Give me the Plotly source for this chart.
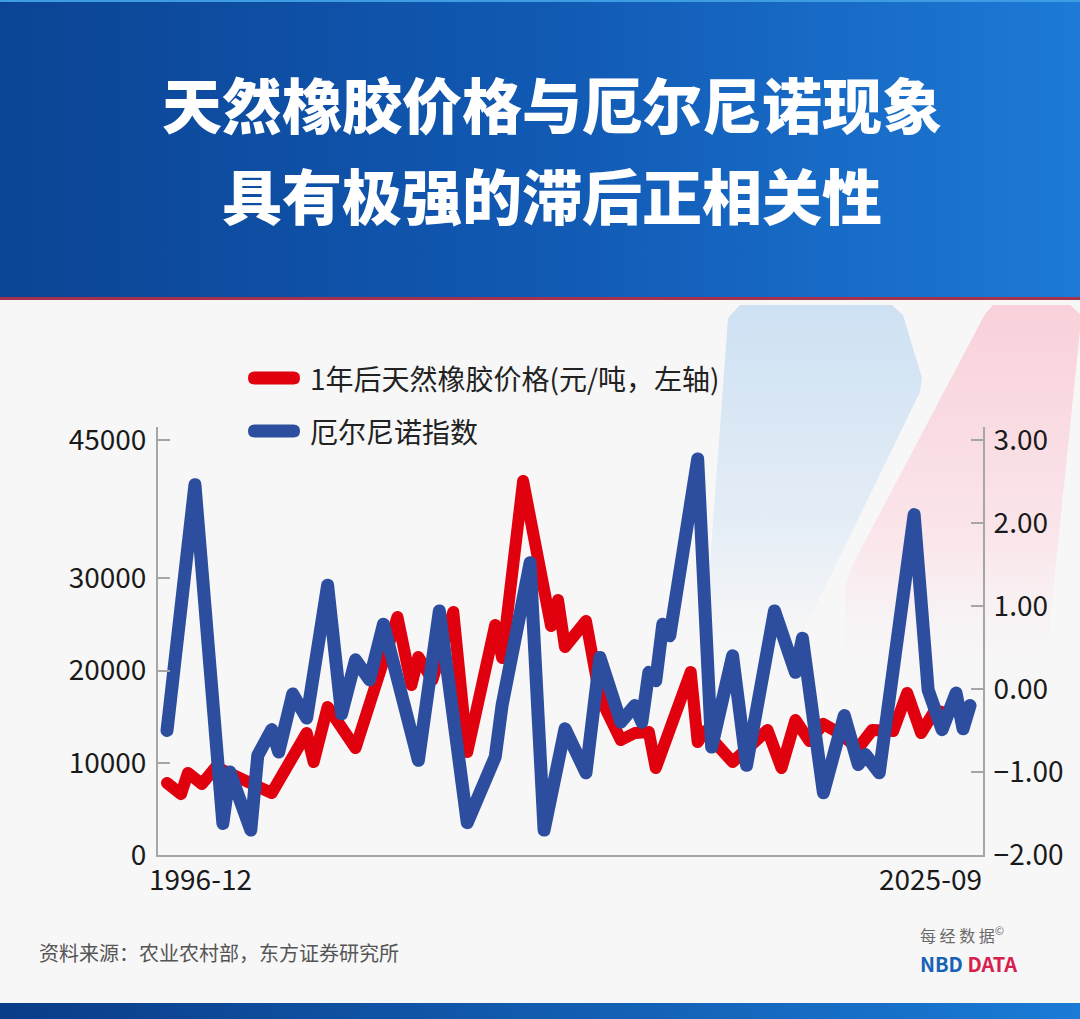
import plotly.graph_objects as go

W, H = 1080, 1019

# ---------------- data ----------------
title_lines = ["天然橡胶价格与厄尔尼诺现象", "具有极强的滞后正相关性"]
legend_labels = ["1年后天然橡胶价格(元/吨，左轴)", "厄尔尼诺指数"]
x_tick_labels = ["1996-12", "2025-09"]
left_ticks = [0, 10000, 20000, 30000, 45000]
right_ticks = [-2, -1, 0, 1, 2, 3]
source_text = "资料来源：农业农村部，东方证券研究所"
logo_cn = "每 经 数 据"

rubber_dates = ["1996-12", "1997-06", "1997-09", "1998-03", "1998-09", "2000-09", "2001-12",
                "2002-03", "2002-09", "2003-09", "2005-03", "2005-09", "2005-12", "2006-06",
                "2007-03", "2007-09", "2008-09", "2008-12", "2009-09", "2010-09", "2010-12",
                "2011-03", "2011-12", "2012-06", "2013-03", "2013-09", "2014-03", "2014-06",
                "2015-09", "2015-12", "2016-03", "2017-03", "2018-06", "2018-12", "2019-06",
                "2019-12", "2020-06", "2020-12", "2021-09", "2022-03", "2022-12", "2023-06",
                "2023-12", "2024-06", "2024-09"]
rubber_price = [7800, 6600, 8900, 7700, 9540, 6720, 13230,
                10080, 16050, 11600, 25800, 18430, 21470, 18980,
                26350, 11170, 24940, 21360, 40550, 24830, 27650,
                22550, 25370, 17130, 12470, 13230, 13340, 9430,
                19840, 12250, 13440, 10080, 13550, 9430, 14640,
                12360, 14200, 13340, 11600, 13550, 13440, 17570,
                13230, 15700, 15500]

enso_dates = ["1996-12", "1997-12", "1998-12", "1999-03", "1999-12", "2000-03", "2000-09",
              "2000-12", "2001-06", "2001-12", "2002-09", "2003-03", "2003-09", "2004-03",
              "2004-09", "2005-12", "2006-09", "2007-03", "2007-09", "2008-09", "2008-12",
              "2009-12", "2010-06", "2011-03", "2011-12", "2012-06", "2013-03", "2013-09",
              "2013-12", "2014-03", "2014-06", "2014-09", "2014-12", "2015-12", "2016-06",
              "2017-03", "2017-09", "2018-09", "2019-06", "2019-09", "2020-06", "2021-03",
              "2021-09", "2021-12", "2022-06", "2023-09", "2024-03", "2024-09", "2025-03",
              "2025-06", "2025-09"]
enso_index = [-0.50, 2.46, -1.62, -1.00, -1.70, -0.80, -0.49,
              -0.76, -0.06, -0.35, 1.25, -0.30, 0.35, 0.11,
              0.78, -0.86, 0.94, -0.28, -1.61, -0.82, -0.19,
              1.52, -1.70, -0.48, -1.01, 0.38, -0.40, -0.20,
              -0.40, 0.20, 0.10, 0.78, 0.64, 2.77, -0.70,
              0.40, -0.92, 0.94, 0.20, 0.61, -1.25, -0.32,
              -0.91, -0.79, -1.01, 2.10, -0.01, -0.49, -0.05,
              -0.48, -0.20]


def quarter_pos(d):
    y, m = map(int, d.split("-"))
    return 4 * (y - 1997) + m // 3


RED = "#E0000E"
BLUE = "#2D4E9F"
AXIS = "#A6A6A6"
FONT = "Noto Sans CJK SC"

fig = go.Figure()

# ---------------- decorative layer (pixel coordinates on hidden axes x/y) ----------------
def deco_poly(pts, gradtype, scale):
    xs = [p[0] for p in pts] + [pts[0][0]]
    ys = [p[1] for p in pts] + [pts[0][1]]
    fig.add_trace(go.Scatter(x=xs, y=ys, mode="lines", fill="toself", line=dict(width=0),
                             fillgradient=dict(type=gradtype, colorscale=scale),
                             hoverinfo="skip", showlegend=False, xaxis="x", yaxis="y"))

# header
deco_poly([(0, 0), (1080, 0), (1080, 298), (0, 298)], "horizontal",
          [[0, "#0B4494"], [0.5, "#1159B3"], [1, "#1D7AD6"]])
# footer band
deco_poly([(0, 1003), (1080, 1003), (1080, 1019), (0, 1019)], "horizontal",
          [[0, "#0A3C88"], [1, "#1A7BD6"]])
# light blue tab (colour strongest at the top, fading downwards)
deco_poly([(740, 305), (892, 305), (903, 315), (922, 378), (920, 392), (770, 700), (700, 700), (728, 318)],
          "vertical", [[0, "rgba(247,247,247,0)"], [0.45, "rgb(228,237,246)"], [1, "rgb(206,225,243)"]])
# light pink tab
deco_poly([(993, 305), (1070, 305), (1080, 314), (1080, 330), (1042, 700), (845, 700), (845, 588),
           (851, 568), (985, 314)],
          "vertical", [[0, "rgba(247,247,247,0)"], [0.4, "rgb(250,230,235)"], [1, "rgb(249,209,218)"]])

# ---------------- data traces ----------------
fig.add_trace(go.Scatter(x=[quarter_pos(d) for d in rubber_dates], y=rubber_price, mode="lines",
                         line=dict(color=RED, width=12), name=legend_labels[0],
                         xaxis="x2", yaxis="y2", showlegend=False))
fig.add_trace(go.Scatter(x=[quarter_pos(d) for d in enso_dates], y=enso_index, mode="lines",
                         line=dict(color=BLUE, width=13), name=legend_labels[1],
                         xaxis="x2", yaxis="y3", showlegend=False))


def pill(x0, x1, yc, r):
    return (f"M{x0 + r},{yc - r} L{x1 - r},{yc - r} Q{x1},{yc - r} {x1},{yc} Q{x1},{yc + r} {x1 - r},{yc + r} "
            f"L{x0 + r},{yc + r} Q{x0},{yc + r} {x0},{yc} Q{x0},{yc - r} {x0 + r},{yc - r} Z")


shapes = [
    dict(type="rect", xref="x", yref="y", x0=0, x1=1080, y0=0, y1=2, fillcolor="#3E9CE2",
         line=dict(width=0), layer="above"),
    dict(type="rect", xref="x", yref="y", x0=0, x1=1080, y0=297, y1=300, fillcolor="#A4324F",
         line=dict(width=0), layer="above"),
    dict(type="path", xref="x", yref="y", path=pill(248, 300, 378, 6.5), fillcolor=RED,
         line=dict(width=0), layer="above"),
    dict(type="path", xref="x", yref="y", path=pill(248, 300, 431, 6.5), fillcolor=BLUE,
         line=dict(width=0), layer="above"),
]

annotations = [
    dict(text=title_lines[0], x=552, y=102, font=dict(size=60, color="white", family=FONT, weight=900)),
    dict(text=title_lines[1], x=552, y=193, font=dict(size=60, color="white", family=FONT, weight=900)),
    dict(text=legend_labels[0], x=308, y=378, xanchor="left", font=dict(size=28, color="#222222")),
    dict(text=legend_labels[1], x=308, y=431, xanchor="left", font=dict(size=28, color="#222222")),
    dict(text=x_tick_labels[0], x=147, y=878, xanchor="left", font=dict(size=28, color="#1a1a1a")),
    dict(text=x_tick_labels[1], x=984, y=878, xanchor="right", font=dict(size=28, color="#1a1a1a")),
    dict(text=source_text, x=37, y=952, xanchor="left", font=dict(size=20, color="#555555")),
    dict(text=logo_cn + "<sup>©</sup>", x=918, y=934, xanchor="left", font=dict(size=16, color="#6a6a6a")),
    dict(text="<b><span style='color:#1662B4'>NBD</span> <span style='color:#D6204E'>DATA</span></b>",
         x=918, y=963, xanchor="left", font=dict(size=20)),
]
for a in annotations:
    a.setdefault("xanchor", "center")
    a.update(xref="x", yref="y", yanchor="middle", showarrow=False)

fig.update_layout(
    width=W, height=H, margin=dict(l=0, r=0, t=0, b=0, pad=0, autoexpand=False),
    paper_bgcolor="#F7F7F7", plot_bgcolor="rgba(0,0,0,0)",
    font=dict(family=FONT, color="#1a1a1a"),
    showlegend=False,
    xaxis=dict(domain=[0, 1], range=[0, W], visible=False, fixedrange=True, anchor="y",
               automargin=False),
    yaxis=dict(domain=[0, 1], range=[H, 0], visible=False, fixedrange=True, anchor="x",
               automargin=False),
    xaxis2=dict(domain=[158 / W, 983 / W], anchor="y2", range=[-1.29, 116.86],
                showticklabels=False, ticks="", showline=True, linecolor=AXIS, linewidth=2,
                showgrid=False, zeroline=False, fixedrange=True, automargin=False),
    yaxis2=dict(domain=[1 - 855 / H, 1 - 427 / H], anchor="x2", range=[0, 46410],
                tickvals=left_ticks, tickformat="d", ticks="inside", ticklen=12, tickwidth=2,
                tickcolor=AXIS, showline=True, linecolor=AXIS, linewidth=2, showgrid=False,
                zeroline=False, tickfont=dict(size=28, color="#1a1a1a"), ticklabelstandoff=4,
                fixedrange=True, automargin=False),
    yaxis3=dict(overlaying="y2", side="right", anchor="x2", range=[-2, 3.155],
                tickvals=right_ticks, tickformat=".2f", ticks="inside", ticklen=12, tickwidth=2,
                tickcolor=AXIS, showline=True, linecolor=AXIS, linewidth=2, showgrid=False,
                zeroline=False, tickfont=dict(size=28, color="#1a1a1a"), ticklabelstandoff=3,
                fixedrange=True, automargin=False),
    shapes=shapes,
    annotations=annotations,
)

post = """
document.documentElement.style.margin='0';
document.documentElement.style.overflow='hidden';
document.body.style.margin='0';
document.body.style.overflow='hidden';
var gd=document.getElementsByClassName('plotly-graph-div')[0];
gd.style.position='fixed'; gd.style.left='0px'; gd.style.top='0px';
document.querySelectorAll('path.js-line').forEach(function(p){
  p.style.strokeLinejoin='round'; p.style.strokeLinecap='round';
});
"""

fig.write_html("out.html", config={"displayModeBar": False}, post_script=post)
